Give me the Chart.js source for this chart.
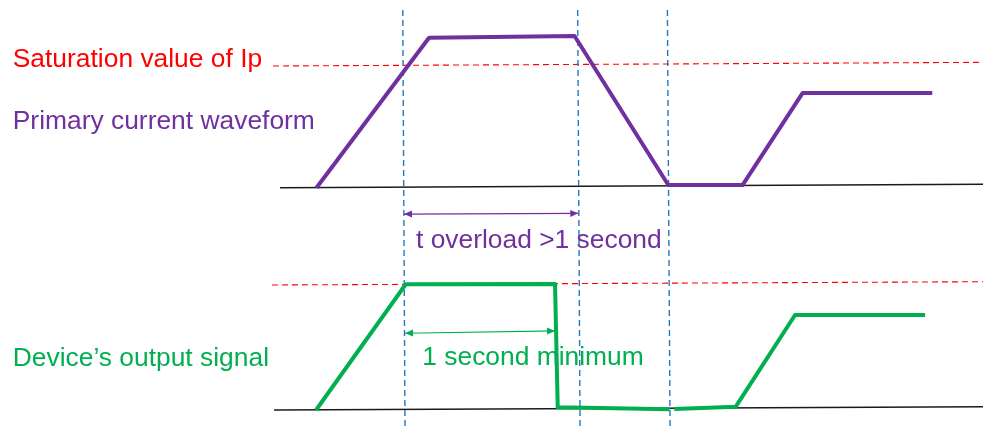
<!DOCTYPE html>
<html>
<head>
<meta charset="utf-8">
<script src="https://cdn.jsdelivr.net/npm/chart.js@4"></script>
<style>
  html, body { margin: 0; padding: 0; background: #fff; }
  #wrap { width: 983px; height: 430px; }
</style>
</head>
<body>
<div id="wrap"><canvas id="chart"></canvas></div>
<script>
// time in seconds (0 = start of overload), level relative to saturation value (1)
const primaryTime = [-0.59, 0.16, 1.13, 1.755, 2.25, 2.65, 3.515]
const primaryLevel = [-0.014, 1.216, 1.23, 0.008, 0.008, 0.762, 0.762]

// null = small gap in the drawn output line
const outputTime = [-0.593, 0.005, 1.0, 1.018, 1.763, 1.78, 1.795, 2.205, 2.6, 3.467]
const outputLevel = [-0.008, 0.99, 0.992, 0.013, -0.003, null, 0.0, 0.018, 0.746, 0.746]

const baseTime = [-0.833, -0.873, 3.86]
const baseTopLevel = [-0.014, 0.015]
const baseBottomLevel = [-0.008, 0.018]

const satTopTime = [-0.88, 3.86]
const satTopLevel = [0.984, 1.014]
const satBottomTime = [-0.887, 3.86]
const satBottomLevel = [0.984, 1.01]

// vertical markers: [time at top, time at bottom]
const markerTimes = [[-0.015, 0.0], [1.151, 1.167], [1.749, 1.767]]
const markerSpan = [1.443, -2.0]

const overloadTime = [-0.007, 1.155]
const overloadLevel = [-0.23, -0.224]
const minimumTime = [0.0, 1.0]
const minimumLevel = [0.601, 0.619]

const labels = [
  'Saturation value of Ip',
  'Primary current waveform',
  'Device\u2019s output signal',
  't overload >1 second',
  '1 second minimum'
]

const RED = '#FF0000'
const PURPLE = '#7030A0'
const GREEN = '#00B050'
const BLUE = '#2277C4'

const pts = (xs, ys) => ys.map((y, i) => ({ x: xs[i], y }))

function drawHead (ctx, tip, from, color) {
  const ang = Math.atan2(tip.y - from.y, tip.x - from.x)
  const len = 8
  const half = 3.5
  ctx.save()
  ctx.fillStyle = color
  ctx.translate(tip.x, tip.y)
  ctx.rotate(ang)
  ctx.beginPath()
  ctx.moveTo(0, 0)
  ctx.lineTo(-len, -half)
  ctx.lineTo(-len, half)
  ctx.closePath()
  ctx.fill()
  ctx.restore()
}

const notesPlugin = {
  id: 'notes',
  beforeDatasetsDraw (chart, args, opts) {
    const { ctx, scales } = chart
    ctx.save()
    ctx.font = '26.4px "Liberation Sans", Arial, sans-serif'
    ctx.textAlign = 'left'
    ctx.textBaseline = 'alphabetic'
    opts.items.forEach(n => {
      ctx.fillStyle = n.color
      ctx.fillText(labels[n.label], scales.x.getPixelForValue(n.x), scales[n.axis].getPixelForValue(n.y))
    })
    ctx.restore()
  },
  afterDatasetsDraw (chart) {
    const ctx = chart.ctx
    chart.data.datasets.forEach((ds, i) => {
      if (!ds.arrows) return
      const els = chart.getDatasetMeta(i).data
      const a = els[0]
      const b = els[els.length - 1]
      drawHead(ctx, b, a, ds.borderColor)
      drawHead(ctx, a, b, ds.borderColor)
    })
  }
}

const line = (data, color, width, axis, extra) => Object.assign({
  data,
  borderColor: color,
  backgroundColor: color,
  borderWidth: width,
  showLine: true,
  pointRadius: 0,
  spanGaps: false,
  yAxisID: axis
}, extra || {})

const datasets = [
  line(pts(primaryTime, primaryLevel), PURPLE, 4, 'yTop', { borderJoinStyle: 'round' }),
  line(pts(outputTime, outputLevel), GREEN, 4, 'yBot', { borderJoinStyle: 'round' }),
  line(pts(overloadTime, overloadLevel), PURPLE, 1.2, 'yTop', { arrows: true }),
  line(pts(minimumTime, minimumLevel), GREEN, 1.2, 'yBot', { arrows: true }),
  ...markerTimes.map(m => line(pts(m, markerSpan), BLUE, 1.4, 'yTop', { borderDash: [6, 4] })),
  line(pts(satTopTime, satTopLevel), RED, 1.1, 'yTop', { borderDash: [6, 4] }),
  line(pts(satBottomTime, satBottomLevel), RED, 1.1, 'yBot', { borderDash: [6, 4] }),
  line(pts([baseTime[0], baseTime[2]], baseTopLevel), '#1a1a1a', 1.5, 'yTop'),
  line(pts([baseTime[1], baseTime[2]], baseBottomLevel), '#1a1a1a', 1.5, 'yBot')
]

// eslint-disable-next-line no-new
new Chart(document.getElementById('chart'), {
  type: 'scatter',
  data: { datasets },
  options: {
    responsive: true,
    maintainAspectRatio: false,
    animation: false,
    layout: { padding: 0 },
    scales: {
      x: { type: 'linear', display: false, min: -2.7, max: 3.853 },
      yTop: { type: 'linear', display: false, min: -2.0, max: 1.525 },
      yBot: { type: 'linear', display: false, min: -0.167, max: 3.246 }
    },
    plugins: {
      legend: { display: false },
      tooltip: { enabled: false },
      notes: {
        items: [
          { label: 0, color: RED, x: -2.615, y: 0.973, axis: 'yTop' },
          { label: 1, color: PURPLE, x: -2.615, y: 0.467, axis: 'yTop' },
          { label: 2, color: GREEN, x: -2.615, y: 0.344, axis: 'yBot' },
          { label: 3, color: PURPLE, x: 0.073, y: -0.511, axis: 'yTop' },
          { label: 4, color: GREEN, x: 0.115, y: 0.349, axis: 'yBot' }
        ]
      }
    }
  },
  plugins: [notesPlugin]
})
</script>
</body>
</html>
